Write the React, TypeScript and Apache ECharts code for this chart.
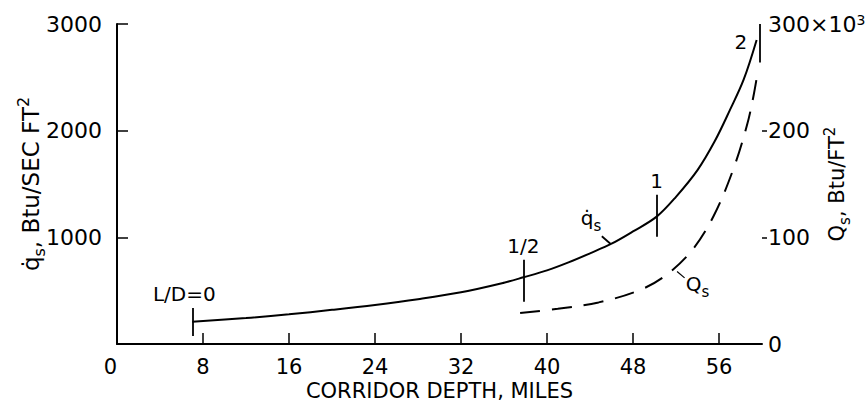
import React, { useEffect, useRef } from 'react';
import * as echarts from 'echarts';

// ---- data ----
const xTickValues = [8, 16, 24, 32, 40, 48, 56];
const xLabelValues = [0, 8, 16, 24, 32, 40, 48, 56];
const leftTickValues = [1000, 2000, 3000];
const rightTickValues = [100, 200];
const rightLabelValues = [0, 100, 200, 300];

// q-dot_s (Btu/sec ft^2) vs corridor depth (miles)
const qDotX = [7, 12, 16, 20, 24, 28, 32, 36, 37.8, 40, 42, 44, 46, 48, 50.2, 52, 54, 55.6, 57, 58.3, 59.5];
const qDotY = [209, 243, 278, 320, 366, 420, 485, 575, 625, 690, 765, 850, 940, 1055, 1194, 1380, 1630, 1900, 2190, 2480, 2850];

// Q_s (x10^3 Btu/ft^2) vs corridor depth (miles)
const qsX = [37.5, 41, 44.8, 48.5, 51, 53.5, 55.5, 57.3, 58.6, 59.2, 59.6];
const qsY = [29, 33, 39, 50, 64, 88, 120, 163, 205, 232, 255];

// L/D markers on the q-dot curve
const markerLabels = ['L/D=0', '1/2', '1', '2'];
const markerX = [7, 37.8, 50.2, 59.8];
const markerLo = [75, 395, 1005, 2640];
const markerHi = [338, 790, 1400, 3000];

const FONT = 'DejaVu Sans';
const BLACK = '#000';

export default function App() {
  const ref = useRef<HTMLDivElement>(null);
  useEffect(() => {
    document.body.style.margin = '0';
    if (!ref.current) return;
    const chart = echarts.init(ref.current, null, { renderer: 'svg' });

    const qDotData = qDotX.map((x, i) => [x, qDotY[i]]);
    const qsData = qsX.map((x, i) => [x, qsY[i]]);

    const subSup = (size: number) => ({
      sub: { fontSize: size, lineHeight: size, verticalAlign: 'bottom', fontFamily: FONT, color: BLACK },
      sup: { fontSize: size, lineHeight: size, verticalAlign: 'top', fontFamily: FONT, color: BLACK },
    });

    const markerLines: any[] = markerX.map((x, i) => [
      { coord: [x, markerLo[i]] },
      { coord: [x, markerHi[i]] },
    ]);
    // cap on the last marker
    markerLines.push([
      { coord: [markerX[3] - 0.6, markerHi[3]] },
      { coord: [markerX[3] + 0.6, markerHi[3]] },
    ]);
    // leader for q-dot label
    markerLines.push([{ coord: [45.9, 940] }, { coord: [45.1, 1010] }]);

    const markerPoints: any[] = markerX.map((x, i) => {
      if (i === 3) {
        return {
          coord: [x, 2830],
          label: { formatter: markerLabels[i], position: 'left', distance: 12 },
        };
      }
      return {
        coord: [x, markerHi[i]],
        label: {
          formatter: markerLabels[i],
          position: 'top',
          distance: 3,
          offset: i === 0 ? [-8, 0] : [0, 0],
        },
      };
    });
    markerPoints.push({
      coord: [44.1, 1181],
      label: { formatter: 'q\u0307{sub|s}', position: 'inside', lineHeight: 30, rich: subSup(15) },
    });

    const option: any = {
      animation: false,
      backgroundColor: '#fff',
      grid: { left: 117, right: 105, top: 24, bottom: 63, containLabel: false, outerBoundsMode: 'none' },
      xAxis: {
        type: 'value',
        min: 0,
        max: 60,
        interval: 8,
        name: 'CORRIDOR DEPTH, MILES',
        nameLocation: 'middle',
        nameGap: 36,
        nameMoveOverlap: false,
        nameTextStyle: { fontSize: 21, fontFamily: FONT, color: BLACK },
        axisLine: { show: true, onZero: false, lineStyle: { color: BLACK, width: 2 } },
        axisTick: { show: true, inside: true, length: 11, customValues: xTickValues, lineStyle: { color: BLACK, width: 1.5 } },
        axisLabel: {
          customValues: xLabelValues,
          margin: 12,
          fontSize: 21,
          fontFamily: FONT,
          color: BLACK,
          alignMinLabel: 'right',
          formatter: (v: number) => String(v),
        },
        splitLine: { show: false },
      },
      yAxis: [
        {
          type: 'value',
          min: 0,
          max: 3000,
          interval: 1000,
          position: 'left',
          name: 'q\u0307{sub|s}, Btu/SEC FT{sup|2}',
          nameLocation: 'middle',
          nameRotate: 90,
          nameGap: 70,
          nameMoveOverlap: false,
          nameTextStyle: { fontSize: 23, fontFamily: FONT, color: BLACK, lineHeight: 32, rich: subSup(16) },
          axisLine: { show: true, onZero: false, lineStyle: { color: BLACK, width: 2 } },
          axisTick: { show: true, inside: true, length: 11, customValues: leftTickValues, lineStyle: { color: BLACK, width: 1.5 } },
          axisLabel: {
            customValues: leftTickValues,
            margin: 15,
            fontSize: 22,
            fontFamily: FONT,
            color: BLACK,
            formatter: (v: number) => String(v),
          },
          splitLine: { show: false },
        },
        {
          type: 'value',
          min: 0,
          max: 300,
          interval: 100,
          position: 'right',
          name: 'Q{sub|s}, Btu/FT{sup|2}',
          nameLocation: 'middle',
          nameRotate: 90,
          nameGap: 60,
          nameMoveOverlap: false,
          nameTextStyle: { fontSize: 21, fontFamily: FONT, color: BLACK, lineHeight: 30, rich: subSup(15) },
          axisLine: { show: true, onZero: false, lineStyle: { color: 'rgba(0,0,0,0)', width: 0 } },
          axisTick: { show: true, inside: false, length: 5, customValues: rightTickValues, lineStyle: { color: BLACK, width: 1.5 } },
          axisLabel: {
            customValues: rightLabelValues,
            margin: 6,
            fontSize: 22,
            fontFamily: FONT,
            color: BLACK,
            formatter: (v: number) => (v === 300 ? '300×10{sup|3}' : String(v)),
            rich: { sup: { fontSize: 14, lineHeight: 14, verticalAlign: 'top', fontFamily: FONT, color: BLACK } },
          },
          splitLine: { show: false },
        },
      ],
      series: [
        {
          type: 'line',
          yAxisIndex: 0,
          data: qDotData,
          smooth: 0.35,
          showSymbol: false,
          clip: false,
          silent: true,
          lineStyle: { color: BLACK, width: 2 },
          markLine: {
            silent: true,
            symbol: ['none', 'none'],
            label: { show: false },
            lineStyle: { color: BLACK, width: 1.8, type: 'solid' },
            data: markerLines,
          },
          markPoint: {
            silent: true,
            symbol: 'circle',
            symbolSize: 1,
            itemStyle: { color: 'rgba(0,0,0,0)' },
            label: { show: true, fontSize: 20, fontFamily: FONT, color: BLACK },
            data: markerPoints,
          },
        },
        {
          type: 'line',
          yAxisIndex: 1,
          data: qsData,
          smooth: 0.35,
          showSymbol: false,
          clip: false,
          silent: true,
          lineStyle: { color: BLACK, width: 2, type: [20, 12] },
          markLine: {
            silent: true,
            symbol: ['none', 'none'],
            label: { show: false },
            lineStyle: { color: BLACK, width: 1.2, type: 'solid' },
            data: [[{ coord: [52.1, 68] }, { coord: [52.8, 62] }]],
          },
          markPoint: {
            silent: true,
            symbol: 'circle',
            symbolSize: 1,
            itemStyle: { color: 'rgba(0,0,0,0)' },
            label: { show: true, fontSize: 20, fontFamily: FONT, color: BLACK },
            data: [
              {
                coord: [54.0, 56],
                label: { formatter: 'Q{sub|s}', position: 'inside', lineHeight: 30, rich: subSup(15) },
              },
            ],
          },
        },
      ],
    };
    chart.setOption(option);
    return () => chart.dispose();
  }, []);
  return <div ref={ref} style={{ width: 867, height: 407 }} />;
}
